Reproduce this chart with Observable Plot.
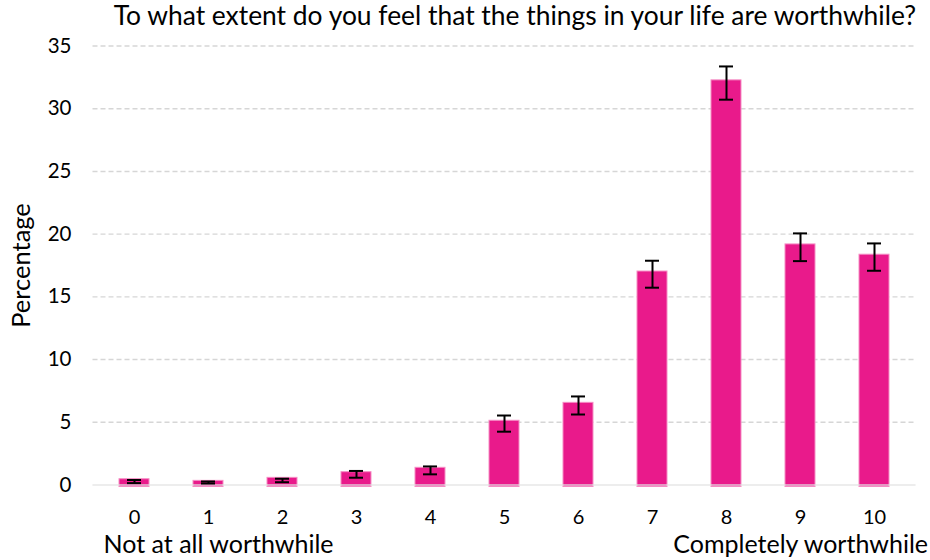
<!DOCTYPE html>
<html>
<head>
<meta charset="utf-8">
<script src="https://cdn.jsdelivr.net/npm/d3@7"></script>
<script src="https://cdn.jsdelivr.net/npm/@observablehq/plot@0.6"></script>
<style>
  html, body { margin: 0; padding: 0; background: #fff; }
</style>
</head>
<body>
<div id="chart"></div>
<script>
// Response scale (0 = not at all worthwhile, 10 = completely worthwhile)
const scores = ["0", "1", "2", "3", "4", "5", "6", "7", "8", "9", "10"];
// Share of respondents giving each score (%)
const percentages = [0.46, 0.33, 0.57, 1.02, 1.37, 5.12, 6.55, 17.02, 32.26, 19.18, 18.36];
// 95% confidence interval bounds (%)
const ciLower = [0.15, 0.12, 0.22, 0.58, 0.85, 4.25, 5.62, 15.73, 30.72, 17.85, 17.08];
const ciUpper = [0.40, 0.28, 0.50, 1.12, 1.48, 5.54, 7.06, 17.88, 33.37, 20.06, 19.26];
const yTicks = [0, 5, 10, 15, 20, 25, 30, 35];

const title = "To what extent do you feel that the things in your life are worthwhile?";
const yLabel = "Percentage";
const lowEndLabel = "Not at all worthwhile";
const highEndLabel = "Completely worthwhile";

const rows = scores.map((s, i) => ({
  score: s, value: percentages[i], lo: ciLower[i], hi: ciUpper[i]
}));

const font = "Lato, 'Open Sans', 'Liberation Sans', sans-serif";

const chart = Plot.plot({
  width: 930,
  height: 560,
  marginTop: 45.5,
  marginBottom: 75.5,
  marginLeft: 92.5,
  marginRight: 14.5,
  style: { fontFamily: font, color: "#000", background: "#fff" },
  x: { type: "band", domain: scores, paddingInner: 0.6, paddingOuter: 0.3, label: null },
  y: { domain: [0, 35], label: null },
  marks: [
    Plot.gridY(yTicks.filter(d => d > 0), {
      stroke: "#d6d6d6", strokeOpacity: 1, strokeWidth: 1.4, strokeDasharray: "5,3"
    }),
    Plot.axisY(yTicks, {
      tickSize: 0, tickPadding: 21.5, fontSize: 20.5, label: null
    }),
    Plot.axisX({
      tickSize: 0, tickPadding: 25, fontSize: 20, label: null
    }),
    Plot.barY(rows, {
      x: "score", y: "value", fill: "#E91A8B",
      stroke: "#F58DC4", strokeWidth: 1, insetBottom: -2
    }),
    Plot.ruleY([0], { stroke: "#e2e2e2", strokeWidth: 1.6, strokeOpacity: 0.85 }),
    // confidence interval whiskers
    Plot.ruleX(rows, { x: "score", y1: "lo", y2: "hi", stroke: "#000", strokeWidth: 2 }),
    Plot.tickY(rows, { x: "score", y: "lo", stroke: "#000", strokeWidth: 2, insetLeft: 8, insetRight: 8 }),
    Plot.tickY(rows, { x: "score", y: "hi", stroke: "#000", strokeWidth: 2, insetLeft: 8, insetRight: 8 }),
    // titles and end-of-scale labels
    Plot.text([title], {
      frameAnchor: "top-right", textAnchor: "end", lineAnchor: "middle",
      dx: 0, dy: -29.5, fontSize: 26.4, fill: "#000"
    }),
    Plot.text([yLabel], {
      frameAnchor: "left", textAnchor: "middle", lineAnchor: "middle", rotate: -90,
      dx: -71, fontSize: 25.5, fill: "#000"
    }),
    Plot.text([lowEndLabel], {
      frameAnchor: "bottom-left", textAnchor: "start", lineAnchor: "middle",
      dx: 10.5, dy: 60, fontSize: 25, fill: "#000"
    }),
    Plot.text([highEndLabel], {
      frameAnchor: "bottom-right", textAnchor: "end", lineAnchor: "middle",
      dx: 12, dy: 60, fontSize: 25, fill: "#000"
    })
  ]
});

document.getElementById("chart").appendChild(chart);
</script>
</body>
</html>
